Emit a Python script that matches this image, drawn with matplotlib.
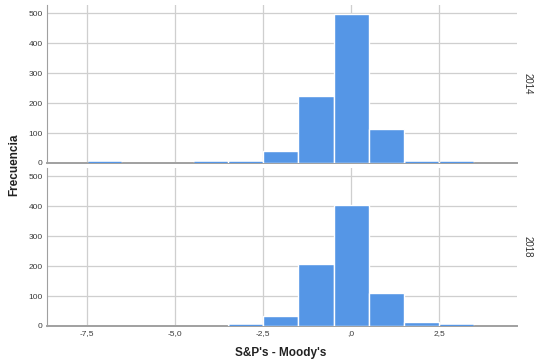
import matplotlib
matplotlib.use("Agg")
import matplotlib.pyplot as plt
from matplotlib.ticker import FuncFormatter

plt.rcParams["font.family"] = ["Liberation Sans", "DejaVu Sans"]

bins = [-7, -6, -5, -4, -3, -2, -1, 0, 1, 2, 3]
counts_2014 = [1, 0, 0, 1, 5, 40, 222, 497, 115, 4, 1]
counts_2018 = [0, 0, 0, 0, 2, 32, 207, 404, 110, 12, 1]
panels = ["2014", "2018"]
xticks = [-7.5, -5.0, -2.5, 0.0, 2.5]
yticks = [0, 100, 200, 300, 400, 500]

bar_color = "#5596E6"
grid_color = "#cfcfcf"

fig = plt.figure(figsize=(5.37, 3.63), dpi=100)
left, width, height = 0.0875, 0.876, 0.435
bottoms = [0.551, 0.102]

def fmt(v, pos):
    s = f"{v:.1f}".replace(".", ",")
    if s.startswith("0,"):
        s = s[1:]
    return s

for i, (label, counts) in enumerate(zip(panels, [counts_2014, counts_2018])):
    ax = fig.add_axes([left, bottoms[i], width, height])
    ax.set_axisbelow(True)
    xs = [b for b, c in zip(bins, counts) if c > 0]
    hs = [c for c in counts if c > 0]
    ax.bar(xs, hs, width=1.0, color=bar_color, edgecolor="white",
           linewidth=1.0, zorder=3)
    # thin visible base for very small counts
    small_x = [b for b, c in zip(bins, counts) if 0 < c < 8]
    for b in small_x:
        ax.plot([b - 0.47, b + 0.47], [3, 3], color=bar_color, lw=1.0,
                zorder=3, solid_capstyle="butt")
    ax.set_xlim(-8.64, 4.72)
    ax.set_ylim(0, 527)
    ax.set_yticks(yticks)
    ax.set_xticks(xticks)
    ax.grid(True, color=grid_color, linewidth=0.9)
    for s in ["top", "right"]:
        ax.spines[s].set_visible(False)
    ax.spines["left"].set_color("#a0a0a0")
    ax.spines["bottom"].set_color("#a0a0a0")
    ax.spines["bottom"].set_linewidth(1.4)
    ax.tick_params(length=0, labelsize=6, colors="#3a3a3a", pad=3)
    ax.xaxis.set_major_formatter(FuncFormatter(fmt))
    if i == 0:
        ax.tick_params(labelbottom=False)
    ax.text(1.012, 0.5, label, transform=ax.transAxes, rotation=-90,
            ha="left", va="center", fontsize=7, color="#333333")

fig.text(0.026, 0.545, "Frecuencia", rotation=90, ha="center", va="center",
         fontsize=8.5, fontweight="bold", color="#222222")
fig.text(0.522, 0.027, "S&P's - Moody's", ha="center", va="center",
         fontsize=8.5, fontweight="bold", color="#222222")

fig.savefig("out.png", dpi=100)
